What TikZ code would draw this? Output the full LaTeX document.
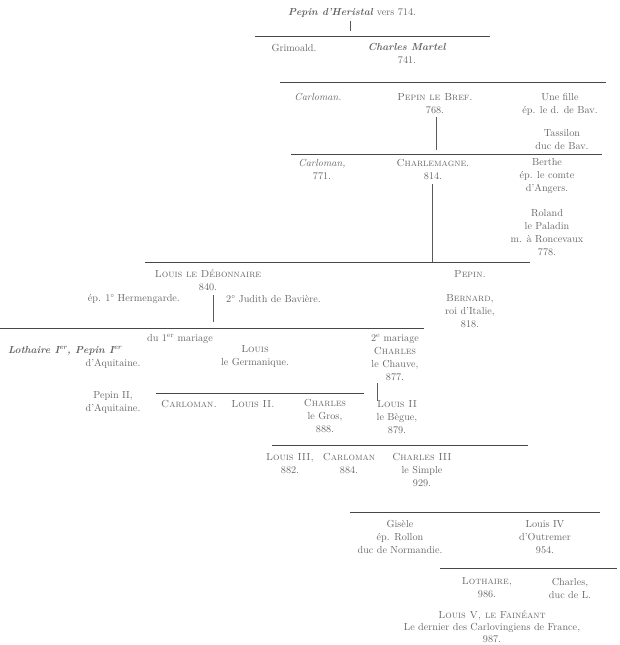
\documentclass[tikz,border=0pt]{standalone}
\usepackage{fontspec}
\begin{document}
\begin{tikzpicture}[x=1pt,y=-1pt,
  txt/.style={inner sep=0pt,align=center,text=black!60,font=\fontsize{10.2}{13}\selectfont},
  rule/.style={draw=black!72,line width=0.9pt},
  link/.style={draw=black!65,line width=0.7pt}]
\useasboundingbox (0,0) rectangle (619,645);
% generation 1
\node[txt] (pepinh) at (352,13) {\textbf{\textit{Pepin d'Heristal}} vers 714.};
\coordinate (t1) at (350,31);
\draw[link] (pepinh.south) ++(-2,3) -- (t1);
\coordinate (l1a) at (255,36); \coordinate (l1b) at (490,36);
\draw[rule] (l1a) -- (l1b);
% generation 2
\node[txt] (grimoald) at (294,48) {Grimoald.};
\node[txt] (martel) at (407,54) {\textbf{\textit{Charles Martel}}\\741.};
\coordinate (l2a) at (280,82); \coordinate (l2b) at (606,82);
\draw[rule] (l2a) -- (l2b);
% generation 3
\node[txt] (carloman1) at (318,97) {\textit{Carloman.}};
\node[txt] (pbref) at (435,104) {\textsc{Pepin le Bref.}\\768.};
\node[txt] (fille) at (560,104) {Une fille\\ép. le d. de Bav.};
\node[txt] (tassilon) at (562,140) {Tassilon\\duc de Bav.};
\coordinate (v1) at (436,150);
\draw[link] (pbref.south) ++(1,3) -- (v1);
\coordinate (l3a) at (291,154); \coordinate (l3b) at (602,154);
\draw[rule] (l3a) -- (l3b);
% generation 4
\node[txt] (carloman2) at (322,170) {\textit{Carloman,}\\771.};
\node[txt] (charlemagne) at (433,170) {\textsc{Charlemagne.}\\814.};
\node[txt] (berthe) at (547,176) {Berthe\\ép. le comte\\d'Angers.};
\node[txt] (roland) at (547,233) {Roland\\le Paladin\\m. à Roncevaux\\778.};
\coordinate (v2) at (432,262);
\draw[link] (charlemagne.south) ++(-1,4) -- (v2);
\coordinate (l4a) at (145,262); \coordinate (l4b) at (530,262);
\draw[rule] (l4a) -- (l4b);
% generation 5
\node[txt] (louis1) at (208,280) {\textsc{Louis le Débonnaire}\\840.};
\node[txt,anchor=east] (herm) at (180,299) {ép. 1° Hermengarde.};
\node[txt,anchor=west] (judith) at (226,299) {2° Judith de Bavière.};
\coordinate (v3) at (213,322);
\draw[link] (louis1.south) ++(5,4) -- (v3);
\node[txt] (pepin2) at (470,274) {\textsc{Pepin.}};
\node[txt] (bernard) at (470,311) {\textsc{Bernard,}\\roi d'Italie,\\818.};
\coordinate (l5a) at (0,328); \coordinate (l5b) at (424,328);
\draw[rule] (l5a) -- (l5b);
% generation 6
\node[txt] (mar1) at (180,339) {du 1\textsuperscript{er} mariage};
\node[txt] (mar2) at (395,339) {2\textsuperscript{e} mariage};
\node[txt,anchor=west] (lothaire) at (8,351) {\textbf{\textit{Lothaire I\textsuperscript{er}, Pepin I\textsuperscript{er}}}};
\node[txt] (aquit1) at (113,364) {d'Aquitaine.};
\node[txt] (germ) at (255,357) {\textsc{Louis}\\le Germanique.};
\node[txt] (chauve) at (395,364) {\textsc{Charles}\\le Chauve,\\877.};
% generation 7
\node[txt] (pepinII) at (113,403) {Pepin II,\\d'Aquitaine.};
\coordinate (l6a) at (156,393); \coordinate (l6b) at (364,393);
\draw[rule] (l6a) -- (l6b);
\node[txt] (carl3) at (189,404) {\textsc{Carloman.}};
\node[txt] (ljeune) at (253,404) {\textsc{Louis II.}};
\node[txt] (gros) at (325,416) {\textsc{Charles}\\le Gros,\\888.};
\node[txt] (begue) at (397,417) {\textsc{Louis II}\\le Bègue,\\879.};
\draw[link] (chauve.south) ++(-18,2) -- ++(0,18);
\coordinate (l7a) at (272,445); \coordinate (l7b) at (528,445);
\draw[rule] (l7a) -- (l7b);
% generation 8
\node[txt] (louis3) at (290,464) {\textsc{Louis III,}\\882.};
\node[txt] (carloman4) at (349,464) {\textsc{Carloman}\\884.};
\node[txt] (charles3) at (422,470) {\textsc{Charles III}\\le Simple\\929.};
\coordinate (l8a) at (350,512); \coordinate (l8b) at (600,512);
\draw[rule] (l8a) -- (l8b);
% generation 9
\node[txt] (gisele) at (400,537) {Gisèle\\ép. Rollon\\duc de Normandie.};
\node[txt] (louis4) at (545,537) {Louis IV\\d'Outremer\\954.};
\coordinate (l9a) at (440,568); \coordinate (l9b) at (617,568);
\draw[rule] (l9a) -- (l9b);
% generation 10
\node[txt] (lothaire2) at (487,588) {\textsc{Lothaire,}\\986.};
\node[txt] (charlesL) at (570,588) {Charles,\\duc de L.};
\node[txt,font=\fontsize{10.2}{12}\selectfont] (louis5) at (492,627) {\textsc{Louis V, le Fainéant}\\Le dernier des Carlovingiens de France,\\987.};
\end{tikzpicture}
\end{document}
